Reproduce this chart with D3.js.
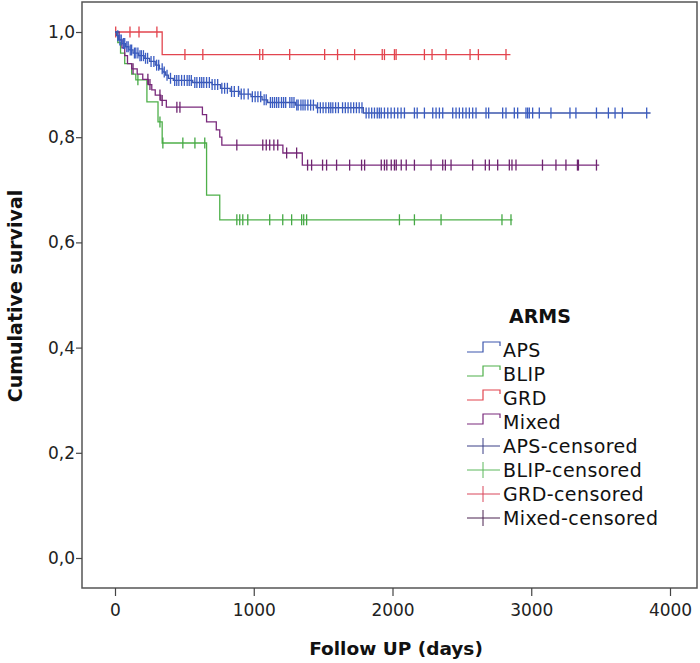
<!DOCTYPE html>
<html><head><meta charset="utf-8">
<script src="https://cdn.jsdelivr.net/npm/d3@7"></script>
<style>
html,body{margin:0;padding:0;background:#fff;}
svg{display:block;}
text{font-family:"DejaVu Sans","Open Sans",sans-serif;}
</style></head>
<body><svg id="c" width="700" height="663"></svg>
<script>
// ---- data ----
const groups = ["APS", "BLIP", "GRD", "Mixed"];
const colors = {APS:"#3d57ad", BLIP:"#4fb04a", GRD:"#e2454f", Mixed:"#7a2a7c"};
const tickColors = {APS:"#3a5cc2", BLIP:"#45a845", GRD:"#e3434d", Mixed:"#6e2470"};
const legendCensColors = {APS:"#3b3f86", BLIP:"#5cb85c", GRD:"#d9465a", Mixed:"#4a2350"};

// step survival: [day, survival after step]
const apsSteps = [[0,1],[10,0.993],[25,0.985],[50,0.978],[75,0.972],[100,0.966],[130,0.960],[170,0.955],[210,0.950],[250,0.944],[290,0.937],[320,0.930],[345,0.924],[365,0.918],[385,0.912],[420,0.908],[560,0.904],[700,0.900],[760,0.893],[830,0.887],[900,0.882],[980,0.877],[1060,0.871],[1100,0.866],[1300,0.861],[1450,0.856],[1790,0.846]];
const apsEnd = 3860;
const apsCensored = [20,35,45,60,70,85,95,110,120,140,150,165,180,190,205,220,235,260,280,300,315,340,355,375,400,430,445,460,480,500,520,535,550,575,590,610,625,640,660,680,700,720,740,770,790,810,840,860,890,910,930,960,990,1010,1030,1050,1075,1090,1120,1135,1150,1165,1180,1200,1215,1230,1260,1275,1290,1310,1320,1340,1355,1370,1390,1410,1430,1460,1480,1500,1520,1540,1555,1570,1590,1610,1640,1660,1680,1700,1720,1740,1760,1780,1810,1830,1850,1870,1890,1905,1919,1942,1966,1990,2014,2038,2062,2086,2158,2178,2230,2290,2314,2338,2362,2434,2458,2482,2506,2530,2554,2578,2602,2674,2693,2794,2818,2878,2902,2962,2974,2986,3010,3058,3142,3279,3322,3470,3556,3604,3657,3832];

const blipSteps = [[0,1],[20,0.98],[40,0.96],[70,0.94],[120,0.92],[150,0.909],[230,0.867],[310,0.829],[340,0.789],[660,0.690],[755,0.643]];
const blipEnd = 2865;
const blipCensored = [165,324,345,489,576,647,878,899,921,957,1115,1209,1273,1345,1360,1381,2050,2158,2350,2789,2854];

const grdSteps = [[0,1],[340,0.957]];
const grdEnd = 2850;
const grdCensored = [5,108,173,302,504,633,1043,1065,1259,1511,1604,1727,1926,1942,2014,2026,2230,2285,2386,2559,2619,2818];

const mixedSteps = [[0,1],[30,0.985],[50,0.97],[70,0.955],[90,0.94],[120,0.93],[160,0.92],[200,0.91],[240,0.90],[265,0.89],[290,0.88],[330,0.87],[370,0.857],[630,0.843],[660,0.829],[730,0.814],[755,0.80],[770,0.785],[1210,0.77],[1350,0.747]];
const mixedEnd = 3490;
const mixedCensored = [130,237,252,324,340,446,468,878,1065,1090,1115,1145,1173,1237,1309,1388,1417,1496,1525,1597,1691,1777,1799,1919,1942,1959,1991,2014,2027,2063,2099,2158,2278,2362,2381,2422,2578,2669,2698,2758,2842,2861,2890,3081,3178,3250,3333,3340,3470];

const xTicks = [0,1000,2000,3000,4000];
const yTicks = [0,0.2,0.4,0.6,0.8,1.0];
const legendTitle = "ARMS";
const legendLabels = ["APS","BLIP","GRD","Mixed","APS-censored","BLIP-censored","GRD-censored","Mixed-censored"];

const series = [
  {name:"APS", steps:apsSteps, end:apsEnd, cens:apsCensored},
  {name:"BLIP", steps:blipSteps, end:blipEnd, cens:blipCensored},
  {name:"GRD", steps:grdSteps, end:grdEnd, cens:grdCensored},
  {name:"Mixed", steps:mixedSteps, end:mixedEnd, cens:mixedCensored}
];

// ---- layout ----
const svg = d3.select("#c");
const frame = {x:82, y:2, w:615, h:586};
const x = d3.scaleLinear().domain([0,4000]).range([115,670]);
const y = d3.scaleLinear().domain([0,1]).range([558,32]);

svg.append("rect").attr("x",frame.x).attr("y",frame.y).attr("width",frame.w).attr("height",frame.h)
  .attr("fill","#fff").attr("stroke","#555").attr("stroke-width",1.5);

const fmt = d => d3.format(".1f")(d).replace(".", ",");
const gy = svg.append("g").attr("transform",`translate(${frame.x},0)`)
  .call(d3.axisLeft(y).tickValues(yTicks).tickFormat(fmt).tickSize(6).tickSizeOuter(0).tickPadding(1));
gy.select(".domain").remove();
gy.selectAll("line").attr("stroke","#444").attr("stroke-width",1.2);
gy.selectAll("text").attr("font-size",17).attr("fill","#222");

const gx = svg.append("g").attr("transform",`translate(0,${frame.y+frame.h})`)
  .call(d3.axisBottom(x).tickValues(xTicks).tickFormat(d3.format("d")).tickSize(8).tickSizeOuter(0).tickPadding(8));
gx.select(".domain").remove();
gx.selectAll("line").attr("stroke","#444").attr("stroke-width",1.2);
gx.selectAll("text").attr("font-size",17).attr("fill","#222");

// curves
function stepData(s){
  const pts = s.steps.map(d=>({t:d[0], v:d[1]}));
  pts.push({t:s.end, v:s.steps[s.steps.length-1][1]});
  return pts;
}
function survAt(s,t){
  let v = 1;
  for(const d of s.steps){ if(d[0] <= t) v = d[1]; }
  return v;
}
const line = d3.line().x(d=>x(d.t)).y(d=>y(d.v)).curve(d3.curveStepAfter);
const order = ["GRD","BLIP","Mixed","APS"];
order.forEach(n=>{
  const s = series.find(d=>d.name===n);
  const g = svg.append("g");
  g.append("path").datum(stepData(s)).attr("d",line).attr("fill","none")
    .attr("stroke",colors[n]).attr("stroke-width",1.3);
  g.selectAll("line.c").data(s.cens).join("line").attr("class","c")
    .attr("x1",d=>x(d)).attr("x2",d=>x(d))
    .attr("y1",d=>y(survAt(s,d))-5.5).attr("y2",d=>y(survAt(s,d))+5.5)
    .attr("stroke",tickColors[n]).attr("stroke-width",1.3);
});

// axis titles
svg.append("text").attr("x",396).attr("y",655).attr("text-anchor","middle")
  .attr("font-size",18.5).attr("font-weight","bold").attr("fill","#111").text("Follow UP (days)");
svg.append("text").attr("transform","translate(22,296) rotate(-90)").attr("text-anchor","middle")
  .attr("font-size",19).attr("font-weight","bold").attr("fill","#111").text("Cumulative survival");

// legend
const lg = svg.append("g");
lg.append("text").attr("x",540).attr("y",323).attr("text-anchor","middle")
  .attr("font-size",19).attr("font-weight","bold").attr("fill","#111").text(legendTitle);
const rowY = i => 350 + i*24;
legendLabels.forEach((lab,i)=>{
  const yy = rowY(i);
  const g = groups[i%4];
  if(i<4){
    const p = d3.path();
    p.moveTo(467,yy+2); p.lineTo(483,yy+2); p.lineTo(483,yy-8); p.lineTo(500,yy-8); p.lineTo(500,yy-4);
    lg.append("path").attr("d",p.toString()).attr("fill","none").attr("stroke",colors[g]).attr("stroke-width",1.2);
  } else {
    lg.append("line").attr("x1",467).attr("x2",500).attr("y1",yy).attr("y2",yy).attr("stroke",legendCensColors[g]).attr("stroke-width",1);
    lg.append("line").attr("x1",483).attr("x2",483).attr("y1",yy-8).attr("y2",yy+8).attr("stroke",legendCensColors[g]).attr("stroke-width",1);
  }
  lg.append("text").attr("x",503).attr("y",yy+7).attr("font-size",19).attr("letter-spacing",0.4).attr("fill","#111").text(lab);
});
</script>
</body></html>
